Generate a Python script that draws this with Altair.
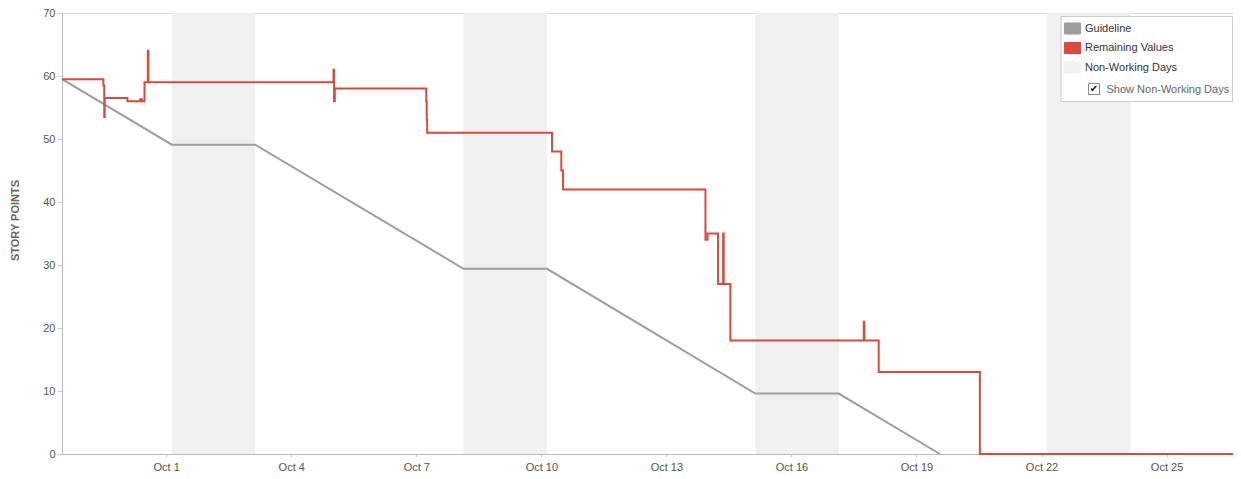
import altair as alt
import pandas as pd

# ---------------- data ----------------
series_names = ["Guideline", "Remaining Values", "Non-Working Days"]
series_colors = ["#9e9e9e", "#d84a3c", "#f0f0f0"]

remaining_times = [
    "2016-09-28T12:00:00Z", "2016-09-29T11:50:00Z", "2016-09-29T12:20:00Z", "2016-09-29T12:35:00Z",
    "2016-09-30T01:40:00Z", "2016-09-30T09:00:00Z", "2016-09-30T10:00:00Z", "2016-09-30T11:30:00Z",
    "2016-09-30T13:25:00Z", "2016-09-30T13:45:00Z", "2016-10-05T00:20:00Z", "2016-10-05T00:40:00Z",
    "2016-10-05T01:05:00Z", "2016-10-07T05:45:00Z", "2016-10-07T06:00:00Z", "2016-10-07T06:15:00Z",
    "2016-10-10T06:10:00Z", "2016-10-10T11:30:00Z", "2016-10-10T12:30:00Z", "2016-10-13T22:30:00Z",
    "2016-10-13T23:45:00Z", "2016-10-14T05:45:00Z", "2016-10-14T08:40:00Z", "2016-10-14T09:00:00Z",
    "2016-10-14T12:50:00Z", "2016-10-17T17:40:00Z", "2016-10-17T18:00:00Z", "2016-10-18T02:15:00Z",
    "2016-10-20T12:30:00Z", "2016-10-26T14:15:00Z",
]
remaining_values = [
    59.5, 58.5, 53.5, 56.5,
    56.0, 56.3, 56.0, 59.0,
    64.0, 59.0, 61.0, 56.0,
    58.0, 56.0, 53.0, 51.0,
    48.0, 45.0, 42.0, 34.0,
    35.0, 27.0, 35.0, 27.0,
    18.0, 21.0, 18.0, 13.0,
    0.0, 0.0,
]

guideline_times = [
    "2016-09-28T12:00:00Z", "2016-10-01T03:15:00Z", "2016-10-03T03:15:00Z", "2016-10-08T03:15:00Z",
    "2016-10-10T03:15:00Z", "2016-10-15T03:15:00Z", "2016-10-17T03:15:00Z", "2016-10-19T13:30:00Z",
]
guideline_values = [59.5, 49.1, 49.1, 29.4, 29.4, 9.6, 9.6, 0.0]

nonworking_start = ["2016-10-01T03:15:00Z", "2016-10-08T03:15:00Z", "2016-10-15T03:15:00Z", "2016-10-22T03:15:00Z"]
nonworking_end = ["2016-10-03T03:15:00Z", "2016-10-10T03:15:00Z", "2016-10-17T03:15:00Z", "2016-10-24T03:15:00Z"]

x_tick_days = [1, 4, 7, 10, 13, 16, 19, 22, 25]
y_ticks = [0, 10, 20, 30, 40, 50, 60, 70]
checkbox_label = ["Show Non-Working Days"]

# ---------------- tables ----------------
remaining_df = pd.DataFrame({"t": remaining_times, "v": remaining_values, "series": "Remaining Values"})
guide_df = pd.DataFrame({"t": guideline_times, "v": guideline_values, "series": "Guideline"})
nwd_df = pd.DataFrame({"start": nonworking_start, "end": nonworking_end, "series": "Non-Working Days"})
label_df = pd.DataFrame({"label": checkbox_label})

FONT = "Liberation Sans"

x_scale = alt.Scale(
    type="utc",
    domain=[alt.DateTime(year=2016, month=9, date=28, hours=12, utc=True),
            alt.DateTime(year=2016, month=10, date=26, hours=14, minutes=15, utc=True)],
)
x_axis = alt.Axis(
    values=[alt.DateTime(year=2016, month=10, date=d, utc=True) for d in x_tick_days],
    labelExpr="utcFormat(datum.value, '%b %-d')", title=None, grid=False,
    tickSize=3, labelPadding=4,
)
y_scale = alt.Scale(domain=[0, 70], nice=False)
y_axis = alt.Axis(
    values=y_ticks, title="STORY POINTS", grid=False, tickSize=5, labelPadding=2,
    titleFontSize=11, titleFontWeight="bold", titleColor="#666666", titleFont=FONT,
    titleX=-42, titleY=207,
)

fill_scale = alt.Scale(domain=series_names, range=series_colors)
stroke_scale = alt.Scale(domain=series_names, range=series_colors)

shade = alt.Chart(nwd_df).mark_rect().encode(
    x=alt.X("start:T", scale=x_scale, axis=x_axis),
    x2="end:T",
    fill=alt.Fill(
        "series:N", scale=fill_scale,
        legend=alt.Legend(
            title=None, orient="none", legendX=1002, legendY=7,
            symbolType="M-1,-0.69L1,-0.69L1,0.69L-1,0.69Z", symbolSize=256,
            symbolStrokeColor="#aaaaaa", symbolStrokeWidth=1,
            labelFont=FONT, labelFontSize=11, labelColor="#333333", labelOffset=4,
            rowPadding=2.5, padding=0,
        ),
    ),
)

guide = alt.Chart(guide_df).mark_line(strokeWidth=2).encode(
    x=alt.X("t:T", scale=x_scale, axis=x_axis),
    y=alt.Y("v:Q", scale=y_scale, axis=y_axis),
    stroke=alt.Stroke("series:N", scale=stroke_scale, legend=None),
)

remaining = alt.Chart(remaining_df).mark_line(strokeWidth=2, interpolate="step-after").encode(
    x=alt.X("t:T", scale=x_scale, axis=x_axis),
    y=alt.Y("v:Q", scale=y_scale, axis=y_axis),
    stroke=alt.Stroke("series:N", scale=stroke_scale, legend=None),
)

legend_box = alt.Chart(label_df).mark_rect(fill="white", stroke="#cccccc", strokeWidth=1).encode(
    x=alt.value(999), x2=alt.value(1170.5), y=alt.value(3.5), y2=alt.value(88.5),
)
check_box = alt.Chart(label_df).mark_rect(fill="white", stroke="#888888", strokeWidth=1).encode(
    x=alt.value(1026.5), x2=alt.value(1037.5), y=alt.value(70.5), y2=alt.value(81.5),
)
check_mark = alt.Chart(label_df).mark_text(
    text="✔", font="DejaVu Sans", fontSize=10, color="#111111", align="center", baseline="middle",
).encode(x=alt.value(1032), y=alt.value(76))
check_text = alt.Chart(label_df).mark_text(
    font=FONT, fontSize=11, color="#666666", align="left", baseline="middle",
).encode(x=alt.value(1044.5), y=alt.value(76.5), text="label:N")

chart = alt.layer(
    shade, guide, remaining, legend_box, check_box, check_mark, check_text
).properties(
    width=1171, height=441,
    autosize=alt.AutoSizeParams(type="none"),
    padding={"left": 54, "top": 5, "right": 0, "bottom": 17},
).configure_view(
    stroke="#dddddd", strokeWidth=1,
).configure_axis(
    domainColor="#bbbbbb", tickColor="#cccccc", labelColor="#555555",
    labelFont=FONT, labelFontSize=11,
)

chart.save("out.html", embed_options={"renderer": "svg", "actions": False})
